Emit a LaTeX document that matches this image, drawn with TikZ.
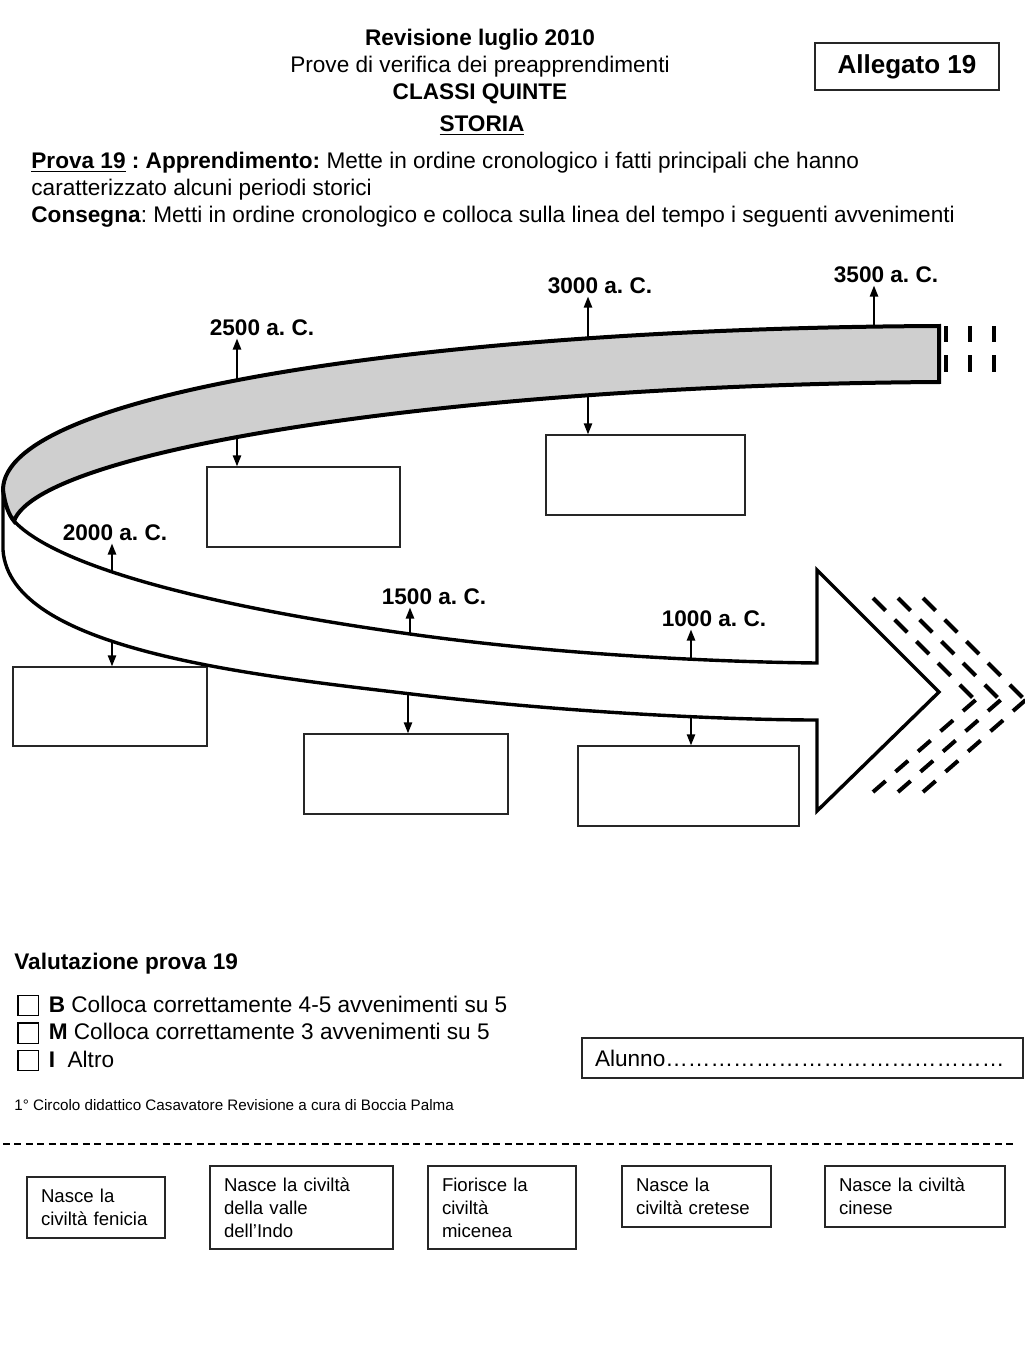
\documentclass[tikz,border=0pt]{standalone}
\usepackage{fontspec}
\setmainfont{Liberation Sans}
\frenchspacing
\usetikzlibrary{arrows.meta,positioning}
\definecolor{ink}{HTML}{000000}
\definecolor{band}{HTML}{CFCFCF}
\definecolor{frame}{HTML}{262626}
\newcommand{\body}{\fontsize{11.3}{13.5}\selectfont}
\newcommand{\cardfont}{\fontsize{9.3}{11.5}\selectfont}
\newcommand{\chk}{\raisebox{-1.5pt}{\setlength{\fboxsep}{0pt}\setlength{\fboxrule}{.6pt}\fbox{\rule{0pt}{9.5pt}\hspace{9.5pt}}}}
\newcommand{\dotsrow}{………………………………………}
\tikzset{
  edge/.style={draw=ink, line width=2pt},
  tick/.style={-{Triangle[length=5.5pt,width=4.2pt]}, draw=ink, line width=.75pt},
  year/.style={font=\body\bfseries, inner sep=1.5pt, anchor=base},
  slot/.style={draw=frame, line width=.75pt, inner sep=0pt},
  card/.style={draw=frame, line width=.65pt, align=left, font=\cardfont, inner xsep=7pt, inner ysep=0pt},
  txt/.style={font=\body, inner sep=0pt, anchor=base west},
  dashbit/.style={draw=ink, line width=2pt},
  cut/.style={draw=ink, line width=.7pt, dash pattern=on 3.5pt off 2.2pt}
}
\begin{document}
\begin{tikzpicture}[x=.5pt,y=-.5pt]
  \useasboundingbox (0,0) rectangle (1024,1365);

  \node[font=\body\bfseries, inner sep=0pt, anchor=base] (rev) at (480,45) {Revisione luglio 2010};
  \node[font=\body, inner sep=0pt, anchor=base] (prove) at (480,72) {Prove di verifica dei preapprendimenti};
  \node[font=\body\bfseries, inner sep=0pt, anchor=base] (classi) at (480,99) {CLASSI QUINTE};
  \node[font=\body\bfseries, inner sep=0pt, anchor=base] (storia) at (482,131) {\underline{STORIA}};
  \node[draw=frame, line width=.75pt, minimum width=92pt, minimum height=23.5pt,
    font=\fontsize{13}{15}\selectfont\bfseries] (alleg) at (907,66.5) {Allegato 19};

  \node[txt] (p1) at (31,168) {\underline{\textbf{Prova 19}}\textbf{ : Apprendimento:} Mette in ordine cronologico i fatti principali che hanno};
  \node[txt] (p2) at (31,195) {caratterizzato alcuni periodi storici};
  \node[txt] (p3) at (31,222) {\textbf{Consegna}: Metti in ordine cronologico e colloca sulla linea del tempo i seguenti avvenimenti};

  \node[year] (y25) at (262,335) {2500 a. C.};
  \node[year] (y30) at (600,293) {3000 a. C.};
  \node[year] (y35) at (886,282) {3500 a. C.};
  \node[year] (y20) at (115,540) {2000 a. C.};
  \node[year] (y15) at (434,604) {1500 a. C.};
  \node[year] (y10) at (714,626) {1000 a. C.};

  \node[slot, minimum width=96.5pt, minimum height=40pt] (s25) at (303.5,507) {};
  \node[slot, minimum width=99.5pt, minimum height=40pt] (s30) at (645.5,475) {};
  \node[slot, minimum width=97pt, minimum height=39.5pt] (s20) at (110,706.5) {};
  \node[slot, minimum width=102pt, minimum height=40pt] (s15) at (406,774) {};
  \node[slot, minimum width=110.5pt, minimum height=40pt] (s10) at (688.5,786) {};

  \coordinate (t25) at (237,386);  \coordinate (u25) at (237,430);
  \coordinate (t30) at (588,345);  \coordinate (u30) at (588,388);
  \coordinate (t35) at (874,335);
  \coordinate (t20) at (112,580);  \coordinate (u20) at (112,632);
  \coordinate (t15) at (410,642);  \coordinate (u15) at (408,686);
  \coordinate (t10) at (691,666);  \coordinate (u10) at (691,710);

  \draw[tick] (t25) -- (t25 |- y25.south);  \draw[tick] (u25) -- (u25 |- s25.north);
  \draw[tick] (t30) -- (t30 |- y30.south);  \draw[tick] (u30) -- (u30 |- s30.north);
  \draw[tick] (t35) -- (t35 |- y35.south);
  \draw[tick] (t20) -- (t20 |- y20.south);  \draw[tick] (u20) -- (u20 |- s20.north);
  \draw[tick] (t15) -- (t15 |- y15.south);  \draw[tick] (u15) -- (u15 |- s15.north);
  \draw[tick] (t10) -- (t10 |- y10.south);  \draw[tick] (u10) -- (u10 |- s10.north);

  % lower band with the arrow head
  \draw[edge, line width=1.7pt, fill=white] (3,490) -- (3,550)
    .. controls (10,650) and (250,675) .. (420,695)
    .. controls (590,715) and (750,720) .. (817,720)
    -- (817,811) -- (939,692) -- (817,570) -- (817,663)
    .. controls (720,662) and (560,655) .. (410,634)
    .. controls (200,605) and (55,565) .. (14,521)
    .. controls (9,515) and (5,505) .. (3,490) -- cycle;
  % upper grey band
  \filldraw[edge, fill=band] (939,326) .. controls (450,328) and (3,390) .. (3,490)
    .. controls (5,505) and (9,515) .. (14,521)
    .. controls (40,450) and (450,385) .. (939,382) -- cycle;

  \foreach \x in {946,970,994} {
    \draw[dashbit] (\x,326) -- (\x,342);
    \draw[dashbit] (\x,355) -- (\x,372);
  }
  \foreach \k in {0,1,2} {
    \foreach \j in {0,...,4} {
      \draw[dashbit] ({873+25*\k+21.7*\j},{598+21.7*\j}) -- ++(12.6,12.6);
      \draw[dashbit] ({873+25*\k+22.5*\j},{792-20.25*\j}) -- ++(12.6,-11);
    }
  }

  \node[txt, font=\body\bfseries] (valut) at (14,969) {Valutazione prova 19};
  \node[txt] (vb) at (17,1012) {\chk\hspace{5pt}\textbf{B} Colloca correttamente 4-5 avvenimenti su 5};
  \node[txt] (vm) at (17,1039.5) {\chk\hspace{5pt}\textbf{M} Colloca correttamente 3 avvenimenti su 5};
  \node[txt] (vi) at (17,1067) {\chk\hspace{5pt}\textbf{I}\ \ Altro};
  \node[draw=frame, line width=.75pt, font=\body, align=left, text width=207.5pt, inner xsep=6.5pt,
    minimum height=20pt] (alunno) at (802.5,1058) {Alunno\dotsrow};

  \node[txt, font=\fontsize{7.6}{9}\selectfont] (circolo) at (14,1110) {1° Circolo didattico Casavatore Revisione a cura di Boccia Palma};
  \draw[cut] (3,1144) -- (1017,1144);

  \node[card, text width=55pt, minimum height=30.5pt] (c1) at (96,1207.5) {Nasce la\\civiltà fenicia};
  \node[card, text width=77.5pt, minimum height=41.5pt] (c2) at (301.5,1207.5) {Nasce la civiltà\\della valle\\dell’Indo};
  \node[card, text width=60pt, minimum height=41.5pt] (c3) at (502,1207.5) {Fiorisce la\\civiltà\\micenea};
  \node[card, text width=60.5pt, minimum height=30.5pt] (c4) at (696.5,1196.5) {Nasce la\\civiltà cretese};
  \node[card, text width=76pt, minimum height=30.5pt] (c5) at (915,1196.5) {Nasce la civiltà\\cinese};
\end{tikzpicture}
\end{document}
